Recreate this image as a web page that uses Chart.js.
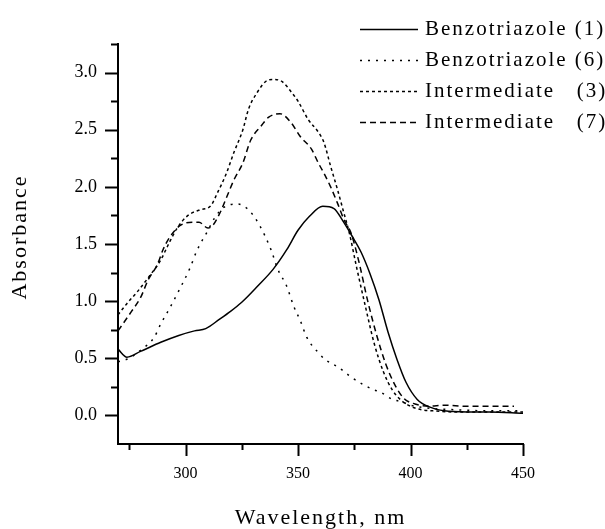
<!DOCTYPE html>
<html>
<head>
<meta charset="utf-8">
<script src="https://cdn.jsdelivr.net/npm/chart.js@4.4.1/dist/chart.umd.min.js"></script>
<style>
    html, body { margin: 0; padding: 0; background: #fff; }
    #wrap { width: 605px; height: 529px; }
</style>
</head>
<body>
<div id="wrap"><canvas id="uvChart" width="605" height="529"></canvas></div>
<script>
// === DATA ===
const benz1X = [270, 274, 280, 289, 297, 304, 309, 315, 320, 325, 332, 339, 345, 350, 355, 361, 366, 370, 374, 378, 382, 386, 390, 394, 398, 403, 409, 415, 425, 435, 450];
const benz1Y = [0.58, 0.51, 0.56, 0.64, 0.70, 0.74, 0.76, 0.84, 0.91, 0.99, 1.13, 1.28, 1.45, 1.62, 1.74, 1.83, 1.81, 1.70, 1.57, 1.43, 1.24, 1.01, 0.73, 0.49, 0.29, 0.14, 0.07, 0.04, 0.03, 0.03, 0.02];

const benz6X = [270, 275, 280, 286, 289, 293, 297, 302, 305, 310, 313, 317, 323, 328, 333, 338, 341, 345, 348, 351, 354, 359, 362, 368, 374, 379, 383, 387, 392, 396, 400, 410, 420, 435, 450];
const benz6Y = [0.47, 0.50, 0.57, 0.68, 0.80, 0.94, 1.09, 1.29, 1.44, 1.62, 1.73, 1.82, 1.85, 1.80, 1.66, 1.45, 1.28, 1.13, 0.96, 0.83, 0.68, 0.55, 0.49, 0.42, 0.33, 0.27, 0.23, 0.20, 0.14, 0.12, 0.09, 0.06, 0.05, 0.04, 0.04];

const inter3X = [270, 274, 278.5, 284, 289, 292, 296, 300.5, 306.5, 311, 314.5, 318, 321.5, 325.5, 328, 332, 335.5, 339, 343, 347, 350, 354.5, 359, 361.5, 364.5, 367.5, 370, 373, 376, 380, 384, 388, 392, 396, 400, 405, 410, 420, 435, 450];
const inter3Y = [0.88, 0.98, 1.08, 1.22, 1.36, 1.48, 1.63, 1.74, 1.80, 1.83, 1.96, 2.11, 2.30, 2.50, 2.68, 2.83, 2.92, 2.94, 2.92, 2.83, 2.75, 2.59, 2.48, 2.39, 2.18, 1.98, 1.80, 1.58, 1.30, 0.95, 0.62, 0.38, 0.22, 0.13, 0.08, 0.05, 0.04, 0.03, 0.03, 0.03];

const inter7X = [270, 276, 280, 283.5, 287.5, 290, 293, 297.5, 303, 306, 310, 312, 315.5, 318.5, 321.5, 325.5, 329, 333.5, 337, 342, 347, 351, 356, 359, 361.5, 364.5, 367.5, 370.5, 373.5, 377, 381, 385, 389, 393, 397, 402, 408, 415, 425, 446];
const inter7Y = [0.74, 0.91, 1.03, 1.19, 1.32, 1.45, 1.56, 1.66, 1.69, 1.69, 1.64, 1.66, 1.78, 1.92, 2.06, 2.21, 2.41, 2.53, 2.61, 2.64, 2.56, 2.44, 2.33, 2.21, 2.12, 2.00, 1.86, 1.71, 1.60, 1.35, 1.00, 0.70, 0.45, 0.27, 0.15, 0.10, 0.08, 0.09, 0.08, 0.08];

const seriesLabels = ['Benzotriazole (1)', 'Benzotriazole (6)', 'Intermediate   (3)', 'Intermediate   (7)'];

// tick values (labels only on the major ones)
const xTicks = [275, 300, 325, 350, 375, 400, 425, 450];
const xMajor = [300, 350, 400, 450];
const yTicks = [-0.25, 0, 0.25, 0.5, 0.75, 1, 1.25, 1.5, 1.75, 2, 2.25, 2.5, 2.75, 3, 3.25];
const yMajor = [0, 0.5, 1, 1.5, 2, 2.5, 3];

const SERIF = '"Liberation Serif", "DejaVu Serif", serif';

function toPoints(xs, ys) {
    return xs.map((x, i) => ({ x: x, y: ys[i] }));
}

function makeSet(label, xs, ys, dash) {
    return {
        label: label,
        data: toPoints(xs, ys),
        borderColor: '#000',
        borderWidth: 1.5,
        borderDash: dash,
        pointRadius: 0,
        fill: false,
        cubicInterpolationMode: 'monotone'
    };
}

// === AXES TICKS, TITLES AND LEGEND ===
const overlayPlugin = {
    id: 'overlay',
    afterDraw(chart) {
        const ctx = chart.ctx;
        const xs = chart.scales.x;
        const ys = chart.scales.y;
        const area = chart.chartArea;

        ctx.save();
        ctx.strokeStyle = '#000';
        ctx.lineWidth = 2;

        // tick marks, outward, minor ones shorter
        xTicks.forEach(v => {
            const px = Math.round(xs.getPixelForValue(v)) + 0.5;
            const len = xMajor.includes(v) ? 12 : 6;
            ctx.beginPath();
            ctx.moveTo(px, area.bottom);
            ctx.lineTo(px, area.bottom + len);
            ctx.stroke();
        });
        yTicks.forEach(v => {
            const py = Math.round(ys.getPixelForValue(v)) + 0.5;
            if (v === yTicks[0]) return;
            const len = yMajor.includes(v) ? 13 : 7;
            ctx.beginPath();
            ctx.moveTo(area.left, py);
            ctx.lineTo(area.left - len, py);
            ctx.stroke();
        });

        ctx.fillStyle = '#000';
        ctx.letterSpacing = '2px';

        // axis titles
        ctx.font = '22px ' + SERIF;
        ctx.textAlign = 'center';
        ctx.textBaseline = 'middle';
        ctx.fillText('Wavelength, nm', (area.left + area.right) / 2, 518);

        ctx.save();
        ctx.translate(20, 237);
        ctx.rotate(-Math.PI / 2);
        ctx.fillText('Absorbance', 0, 0);
        ctx.restore();

        // legend
        ctx.font = '21px ' + SERIF;
        ctx.textAlign = 'left';
        chart.data.datasets.forEach((ds, i) => {
            const rowY = 29 + i * 31;
            ctx.save();
            ctx.lineWidth = 1.5;
            ctx.setLineDash(ds.borderDash || []);
            ctx.beginPath();
            ctx.moveTo(360, rowY + 0.5);
            ctx.lineTo(418, rowY + 0.5);
            ctx.stroke();
            ctx.restore();
            ctx.fillText(ds.label, 425, rowY);
        });
        ctx.restore();
    }
};

const chart = new Chart(document.getElementById('uvChart'), {
    type: 'line',
    data: {
        datasets: [
            makeSet(seriesLabels[0], benz1X, benz1Y, []),
            makeSet(seriesLabels[1], benz6X, benz6Y, [2, 6]),
            makeSet(seriesLabels[2], inter3X, inter3Y, [3, 3]),
            makeSet(seriesLabels[3], inter7X, inter7Y, [6, 4])
        ]
    },
    options: {
        responsive: false,
        animation: false,
        devicePixelRatio: 1,
        layout: { padding: { top: 44, right: 82, left: 0, bottom: 0 } },
        plugins: {
            legend: { display: false },
            tooltip: { enabled: false }
        },
        scales: {
            x: {
                type: 'linear',
                min: 270,
                max: 450,
                grid: { display: false, drawTicks: false },
                border: { display: true, color: '#000', width: 2 },
                afterBuildTicks: scale => { scale.ticks = xTicks.map(v => ({ value: v })); },
                afterFit: scale => { scale.height = 85; },
                ticks: {
                    color: '#000',
                    padding: 20,
                    maxRotation: 0,
                    autoSkip: false,
                    font: { family: SERIF, size: 16 },
                    callback: v => xMajor.includes(v) ? String(v) : ''
                }
            },
            y: {
                type: 'linear',
                min: -0.25,
                max: 3.25,
                grid: { display: false, drawTicks: false },
                border: { display: true, color: '#000', width: 2 },
                afterBuildTicks: scale => { scale.ticks = yTicks.map(v => ({ value: v })); },
                afterFit: scale => { scale.width = 118; },
                ticks: {
                    color: '#000',
                    padding: 21,
                    autoSkip: false,
                    font: { family: SERIF, size: 18 },
                    callback: v => yMajor.includes(v) ? v.toFixed(1) : ''
                }
            }
        }
    },
    plugins: [overlayPlugin]
});
</script>
</body>
</html>
